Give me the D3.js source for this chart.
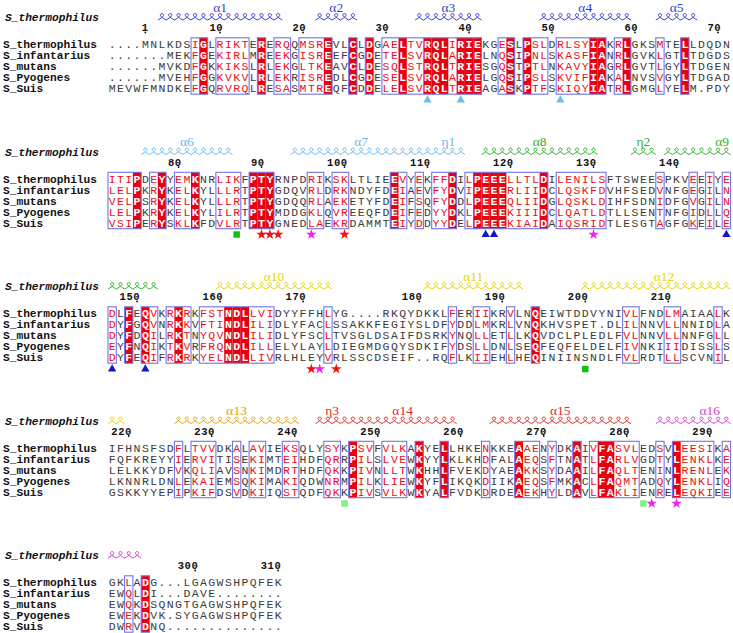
<!DOCTYPE html>
<html><head><meta charset="utf-8">
<script src="https://cdn.jsdelivr.net/npm/d3@7"></script>
<style>html,body{margin:0;padding:0;background:#fff}svg{display:block}</style>
</head><body>
<svg id="chart" width="733" height="633"></svg>
<script>
// ---------------- data ----------------
const speciesNames = ["S_thermophilus","S_infantarius","S_mutans","S_Pyogenes","S_Suis"];
const referenceName = "S_thermophilus";

const block1 = [
"....MNLKDSIGLRIKTERERQQMSREVLCLDGAELTVRQLIRIEKGESLPSLDRLSYIAKRLGKSMTELLDQDN",
".......MEKFGEKIRLMREEKGISREEFCGDETELSVRQLARIELNQSIPNLSKASFIANRLGVKLGTLTDGDS",
"......MVKDFGKKIKSLRLEKGLTKEAVCLDESQLSTRQLTRIESGQSTPTLNKAVYIAGRLGVTLGYLTDGEN",
"......MVEHFGGKVKVLRLEKRISREDLCGDESELSVRQLARIELGQSIPSLSKVIFIAKALNVSVGYLTDGAD",
"MEVWFMNDKEFGQRVRQLRESASMTREQFCDDELELSVRQLTRIEAGASKPTFSKIQYIATRLGMGLYELM.PDY"];
const block2 = [
"ITIPDEYYEMKNRLIKFPTYRNPDRIKSKLTLIEEVYEKFFDILPEEELLTLDILENILSFTSWEESPKVEEIYE",
"LELPKRYKELKYLLLRTPTYGDQVRLDRKNDYFDEIAEVFYDVIPEEERLIIDCLQSKFDVHFSEDVNFGEGILN",
"VELPSRYKELKYLLLRTPTYGDQQRLAEKETYFDEIFSQFYDDLPEEEQLIIDGLQSKLDIHFSDNIDFGVGILN",
"LELPKRYKELKYLILRTPTYMDDGKLQVREEQFDEIFEDYYDKLPEEEKIIIDCLQATLDTLLSENTNFGIDLLQ",
"VSIPERYSKLKFDVLRTPTYGNEDLAEKRDAMMTEIYDDYYDELPEEEKIAIDAIQSRIDTLESGTAGFGKEILE"];
const block3 = [
"DLFEQVKRKRKFSTNDLLVIDYYFFHLYG....RKQYDKKLFERIIKRVLNQEIWTDDVYNIVLFNDLMAIAALK",
"DYFGQVNRKKVFTINDLILIDLYFACLSSAKKFEGIYSLDFYDDLMKRLVNQKHVSPET.DLILNNVLLNNIDLA",
"DYFDQILRKTNYQVNDLILIDLYFSCLTVSGLDSAIFDSRKYNQLLETLLKQVDCLPLEDLFVLNNVLLNNFGLL",
"EYFNQIKTKVRFRQNDLILLELYLAYLDIEGMDGQYSDKIFYDSLLDNLSEQFEQFELDELFIVNKIIIDISSLS",
"DYFEQIFRKRKYELNDLLIVRLHLEYVRLSSCDSEIF..RQFLKIIEHLHEQINIINSNDLFVLRDTLLSCVNIL"];
const block4 = [
"IFHNSFSDFLTVVDKALAVIEKSQLYSYKPSVFVLKAKYELLHKENKKEAAENYDKAIVFASVLEDSVLEESIKA",
"FQFKREYYIERVITISEKIMTEIHDFQRRPILSLVEWKYYLKLKHDFALAEQSFTNATLFARLVGDTYLENKLKE",
"LELKKYDFVKQLIAVSNKIMDRTHDFQKKPIVNLLTWKHHLFVEKDYAEAKKSYDAAILFAQLTENINLRENLEK",
"LKNNRLDNLEKAIEMSQKIMAKIQDWNRMPILKLIEWKYFLIKQKDIIKAEQSFMKACLFAQMTADQYLENKLIQ",
"GSKKYYEPIPKIFDSVDKIIQSTQDFQKKPIVSVLKWKYALFVDKDRDEAEKHYLDAVLFAKLIENRELEQKIEE"];
const block5 = [
"GKLADG...LGAGWSHPQFEK",
"EWQLDI...DAVE........",
"EWQKDSQNGTGAGWSHPQFEK",
"EWEKDVK.SYGAGWSHPQFEK",
"DWRVDNQ.............."];
const blocks = [block1, block2, block3, block4, block5];

// runs of similar columns (blue frames), [firstCol, lastCol] per block
const similarRuns1 = [[10,11],[13,16],[18,18],[20,21],[23,26],[29,29],[31,31],[33,44],[47,48],[50,52],[54,59],[61,62],[66,66],[69,69]];
const similarRuns2 = [[0,3],[5,6],[8,10],[13,15],[17,19],[24,25],[27,28],[34,35],[37,37],[39,41],[43,52],[54,59],[66,66],[70,70],[72,72],[74,74]];
const similarRuns3 = [[0,0],[2,2],[4,5],[7,9],[11,19],[26,26],[41,41],[44,45],[48,48],[51,51],[62,63],[67,68],[73,73]];
const similarRuns4 = [[8,8],[10,12],[15,15],[17,18],[21,22],[26,27],[29,31],[33,35],[37,37],[40,40],[45,45],[49,51],[53,53],[56,56],[58,63],[66,66],[68,72],[74,74]];
const similarRuns5 = [[2,2],[4,4]];
const similarRuns = [similarRuns1, similarRuns2, similarRuns3, similarRuns4, similarRuns5];

// secondary structure of S_thermophilus (alignment columns counted over all blocks, 75 per line)
const helixLabels = ["α1","α2","α3","α4","α5","α6","α7","η1","α8","η2","α9","α10","α11","α12","α13","η3","α14","α15","α16"];
const helixFrom   = [6,25,37,52,66, 79,97,114,120,138,142, 163,188,207, 233,250,254,271,291];
const helixTo     = [20,29,44,62,70, 89,113,117,133,140,155, 176,199,226, 247,253,266,287,303];
const helixGroup  = ["g1","g1","g1","g1","g1","g2","g2","g2","g3","g3","g3","g4","g4","g4","g5","g6","g6","g6","g7"];

// markers under the alignment (alignment columns counted over all blocks)
const markerCol   = [38,42,54, 90,93,94,95,99,103,120,121,133,149, 150,154,174,175,177,207, 253,289,290,293];
const markerShape = ["tri","tri","tri","square","star","star","star","star","star","tri","tri","star","tri","tri","tri","star","star","star","square","square","square","star","star"];
const markerKind  = ["lightTri","lightTri","lightTri","green","red","red","red","magenta","red","blueTri","blueTri","magenta","blueTri","blueTri","blueTri","red","magenta","red","green","paleGreen","paleGreen","magenta","magenta"];

// ---------------- drawing ----------------
const svg = d3.select("#chart");
const colsPerLine = 75;
const colW = 8.3;
const x = d3.scaleLinear().domain([0, colsPerLine]).range([108, 108 + colsPerLine * colW]);
const blockY = d3.scaleLinear().domain([0, 4]).range([0, 538]);
const rowY = d3.scaleLinear().domain([0, 4]).range([44, 88]);
const half = 6.2;

const helixColor = d3.scaleOrdinal()
  .domain(["g1","g2","g3","g4","g5","g6","g7"])
  .range(["#3a3ad0","#6bb8ea","#2fae2f","#e8d400","#eaa000","#e02828","#d040d0"]);
const markerColor = d3.scaleOrdinal()
  .domain(["lightTri","blueTri","red","magenta","green","paleGreen"])
  .range(["#6cbcee","#1515c8","#f01010","#f020f0","#10c010","#86ee86"]);

const frameColor = "#7474e2";
const redFill = "#e80010";
const greyText = "#3c3c3c";
const redText = "#e8101a";

let resCount = 0;

blocks.forEach((rows, b) => {
  const g = svg.append("g").attr("transform", `translate(0,${blockY(b)})`);
  const nCols = rows[0].length;
  const cols = d3.range(nCols);
  const identical = cols.filter(c => rows.every(r => r[c] !== "." && r[c] === rows[0][c]));
  const runs = similarRuns[b];
  const framed = c => runs.some(([s, e]) => c >= s && c <= e);

  // red boxes for strictly conserved columns
  g.selectAll("rect.ident").data(identical).join("rect")
    .attr("class", "ident")
    .attr("x", c => x(c)).attr("width", colW)
    .attr("y", rowY(0) - half).attr("height", rowY(4) - rowY(0) + 2 * half)
    .attr("fill", redFill);

  // blue frames
  g.selectAll("rect.frame").data(runs).join("rect")
    .attr("class", "frame")
    .attr("x", d => x(d[0])).attr("width", d => x(d[1] + 1) - x(d[0]))
    .attr("y", rowY(0) - half).attr("height", rowY(4) - rowY(0) + 2 * half)
    .attr("fill", "none").attr("stroke", frameColor).attr("stroke-width", 1.1);

  // residues
  rows.forEach((seq, r) => {
    const chars = seq.split("").map((ch, i) => ({ ch, i }));
    g.append("g").selectAll("text").data(chars).join("text")
      .attr("x", d => x(d.i + 0.5)).attr("y", rowY(r)).attr("dy", "0.36em")
      .attr("text-anchor", "middle")
      .attr("font-family", "'Liberation Mono', monospace")
      .attr("font-size", 11.5)
      .attr("font-weight", d => identical.includes(d.i) ? "bold" : "normal")
      .attr("fill", d => identical.includes(d.i) ? "#fff" : (framed(d.i) && d.ch !== "." ? redText : greyText))
      .text(d => d.ch);
  });

  // species names
  g.selectAll("text.name").data(speciesNames).join("text")
    .attr("class", "name")
    .attr("x", 3).attr("y", (d, i) => rowY(i)).attr("dy", "0.36em")
    .attr("font-family", "'Liberation Mono', monospace")
    .attr("font-weight", "bold").attr("font-size", 11.2).attr("fill", "#111")
    .text(d => d);

  // header: reference name
  g.append("text").attr("x", 5).attr("y", 17).attr("dy", "0.36em")
    .attr("font-family", "'Liberation Mono', monospace")
    .attr("font-weight", "bold").attr("font-style", "italic").attr("font-size", 11.2)
    .attr("fill", "#111").text(referenceName);

  // numbering of the reference sequence
  const numbers = [];
  rows[0].split("").forEach((ch, i) => {
    if (ch !== ".") {
      resCount++;
      if (resCount === 1 || resCount % 10 === 0) numbers.push({ n: resCount, i });
    }
  });
  const ng = g.append("g");
  ng.selectAll("text").data(numbers).join("text")
    .attr("x", d => x(d.i + 0.5) + 3.2).attr("y", 27.5).attr("dy", "0.36em")
    .attr("text-anchor", "end")
    .attr("font-family", "'Liberation Mono', monospace")
    .attr("font-weight", "bold").attr("font-size", 10.5).attr("letter-spacing", 0.6)
    .attr("fill", "#111").text(d => d.n);
  ng.selectAll("circle").data(numbers).join("circle")
    .attr("cx", d => x(d.i + 0.5)).attr("cy", 32.5).attr("r", 0.9).attr("fill", "#111");

  // helices (coil glyph: one loop per column)
  const lineStart = b * colsPerLine, lineEnd = lineStart + nCols - 1;
  helixLabels.forEach((lab, h) => {
    const from = Math.max(helixFrom[h], lineStart), to = Math.min(helixTo[h], lineEnd);
    const col = helixColor(helixGroup[h]);
    if (from <= to) {
      const base = 20, H = 8.5;
      let p = "";
      for (let c = from; c <= to; c++) {
        const x0 = x(c - lineStart), w = colW;
        p += `M${x0},${base} C${x0 + 1.9 * w},${base - H} ${x0 - 0.9 * w},${base - H} ${x0 + w},${base} `;
      }
      g.append("path").attr("d", p)
        .attr("fill", "none").attr("stroke", col).attr("stroke-width", 1);
    }
    const mid = (helixFrom[h] + helixTo[h] + 1) / 2;
    if (mid >= lineStart && mid <= lineEnd + 1) {
      g.append("text").attr("x", x(mid - lineStart)).attr("y", 7).attr("dy", "0.36em")
        .attr("text-anchor", "middle")
        .attr("font-family", "'Liberation Serif', serif").attr("font-size", 13.5)
        .attr("fill", col).text(lab);
    }
  });

  // markers
  const marks = markerCol.map((c, k) => ({ c, shape: markerShape[k], kind: markerKind[k] }))
    .filter(m => m.c >= lineStart && m.c <= lineEnd);
  const symType = { tri: d3.symbolTriangle, star: d3.symbolStar, square: d3.symbolSquare };
  const symSize = { tri: 30, star: 34, square: 42 };
  g.selectAll("path.mark").data(marks).join("path")
    .attr("class", "mark")
    .attr("transform", m => `translate(${x(m.c - lineStart + 0.5)},${rowY(4) + 12})`)
    .attr("d", m => d3.symbol().type(symType[m.shape]).size(symSize[m.shape])())
    .attr("fill", m => markerColor(m.kind));
});
</script>
</body></html>
